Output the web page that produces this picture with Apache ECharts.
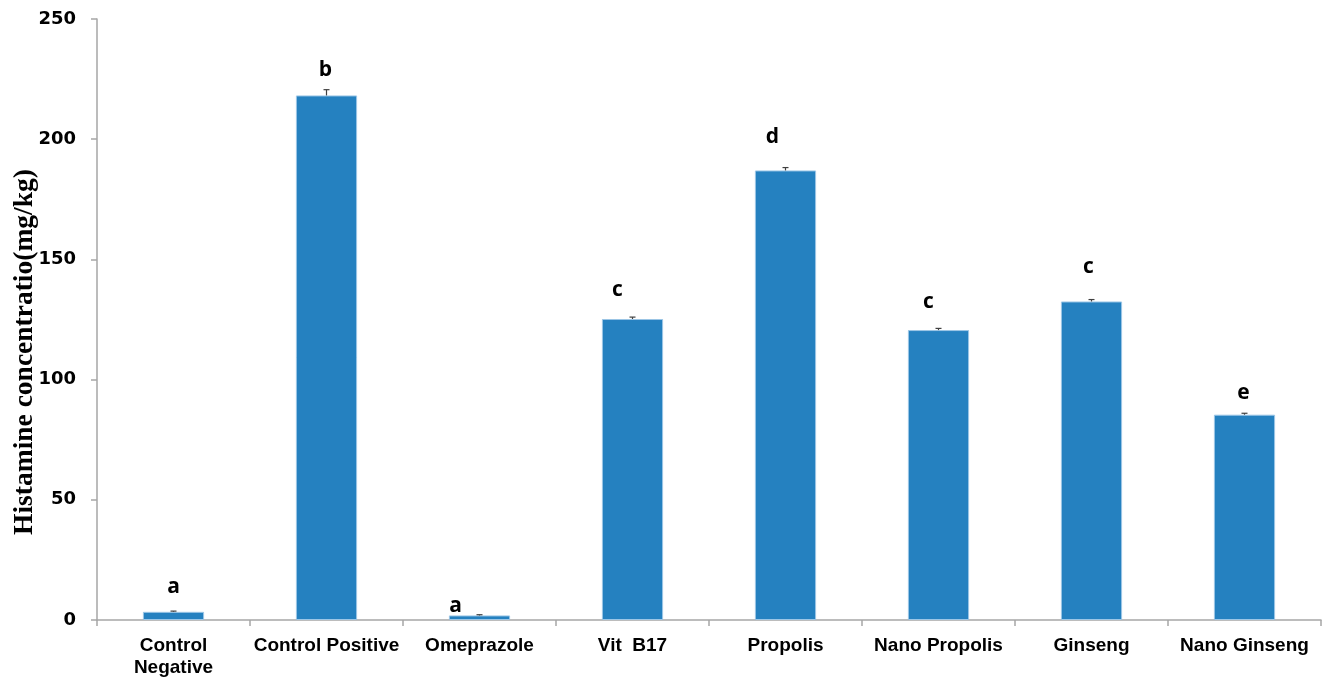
<!DOCTYPE html>
<html>
<head>
<meta charset="utf-8">
<script src="https://cdn.jsdelivr.net/npm/echarts@6/dist/echarts.min.js"></script>
<style>
  html, body { margin: 0; padding: 0; background: #ffffff; }
  #chart { width: 1323px; height: 680px; }
</style>
</head>
<body>
<div id="chart"></div>
<script>
// Groups on the x axis
const categories = ['Control\nNegative', 'Control Positive', 'Omeprazole', 'Vit  B17',
  'Propolis', 'Nano Propolis', 'Ginseng', 'Nano Ginseng'];
// Mean histamine concentration (mg/kg)
const histamine = [3.4, 218.2, 1.9, 125.2, 187.0, 120.6, 132.5, 85.4];
// Standard error of each mean
const stdError = [0.3, 2.4, 0.3, 0.8, 1.2, 0.7, 0.8, 0.6];
// Significance letters above the bars
const sigLetters = ['a', 'b', 'a', 'c', 'd', 'c', 'c', 'e'];
// Y axis ticks
const yTicks = [0, 50, 100, 150, 200, 250];

// Hand placement of each letter: [shift left/right, lift above bar top]
const letterPlace = [[0, 14], [-1, 15], [-24, -1], [-15, 19], [-13, 23], [-10, 18], [-3, 24], [-1, 11]];

const barColor = '#2581c0';
const axisGray = '#a6a6a6';

const chart = echarts.init(document.getElementById('chart'), null, { renderer: 'canvas' });

const barData = histamine.map((v, i) => ({
  value: v,
  label: {
    show: true,
    position: 'top',
    formatter: sigLetters[i],
    distance: letterPlace[i][1],
    offset: [letterPlace[i][0], 0]
  }
}));

chart.setOption({
  animation: false,
  grid: { left: 97, right: 2, top: 19, bottom: 60, containLabel: false },
  xAxis: {
    type: 'category',
    data: categories,
    boundaryGap: true,
    axisLine: { show: true, lineStyle: { color: axisGray, width: 1.5 } },
    axisTick: { show: true, length: 6, alignWithLabel: false, lineStyle: { color: axisGray, width: 1.5 } },
    axisLabel: {
      interval: 0,
      margin: 15,
      formatter: (val, idx) => idx <= 2 ? '{w|' + val.split('\n').join('}\n{w|') + '}' : '{n|' + val + '}',
      rich: {
        w: { fontFamily: 'Liberation Sans, Arial, sans-serif', fontWeight: 'bold', fontSize: 19, color: '#000', lineHeight: 22 },
        n: { fontFamily: '"Liberation Sans Narrow", "Arial Narrow", sans-serif', fontWeight: 'bold', fontSize: 19, color: '#000', lineHeight: 22 }
      }
    }
  },
  yAxis: {
    type: 'value',
    min: yTicks[0],
    max: yTicks[yTicks.length - 1],
    interval: yTicks[1] - yTicks[0],
    axisLine: { show: true, lineStyle: { color: axisGray, width: 1.5 } },
    axisTick: { show: true, inside: false, length: 6, lineStyle: { color: axisGray, width: 1.5 } },
    splitLine: { show: false },
    axisLabel: {
      margin: 21,
      color: '#000',
      fontFamily: '"DejaVu Sans", sans-serif',
      fontWeight: 'bold',
      fontSize: 18
    }
  },
  graphic: [{
    type: 'text',
    x: 25,
    y: 352,
    rotation: Math.PI / 2,
    style: {
      text: 'Histamine concentratio(mg/kg)',
      fontFamily: '"Liberation Serif", "Times New Roman", serif',
      fontWeight: 'bold',
      fontSize: 27.5,
      fill: '#000',
      align: 'center',
      verticalAlign: 'middle'
    }
  }],
  series: [
    {
      type: 'bar',
      data: barData,
      barWidth: '40%',
      itemStyle: { color: barColor, borderColor: '#9cc6e6', borderWidth: 1 },
      label: {
        color: '#000',
        fontFamily: '"Open Sans", sans-serif',
        fontWeight: 'bold',
        fontSize: 21,
        lineHeight: 21
      },
      z: 2
    },
    {
      type: 'custom',
      data: histamine.map((v, i) => [i, v, stdError[i]]),
      renderItem: (params, api) => {
        const x = api.value(0);
        const base = api.coord([x, api.value(1)]);
        const tip = api.coord([x, api.value(1) + api.value(2)]);
        const half = 3;
        const style = { stroke: '#404040', lineWidth: 1.2 };
        return {
          type: 'group',
          children: [
            { type: 'line', shape: { x1: base[0], y1: base[1], x2: tip[0], y2: tip[1] }, style },
            { type: 'line', shape: { x1: tip[0] - half, y1: tip[1], x2: tip[0] + half, y2: tip[1] }, style }
          ]
        };
      },
      z: 3
    }
  ]
});
</script>
</body>
</html>
